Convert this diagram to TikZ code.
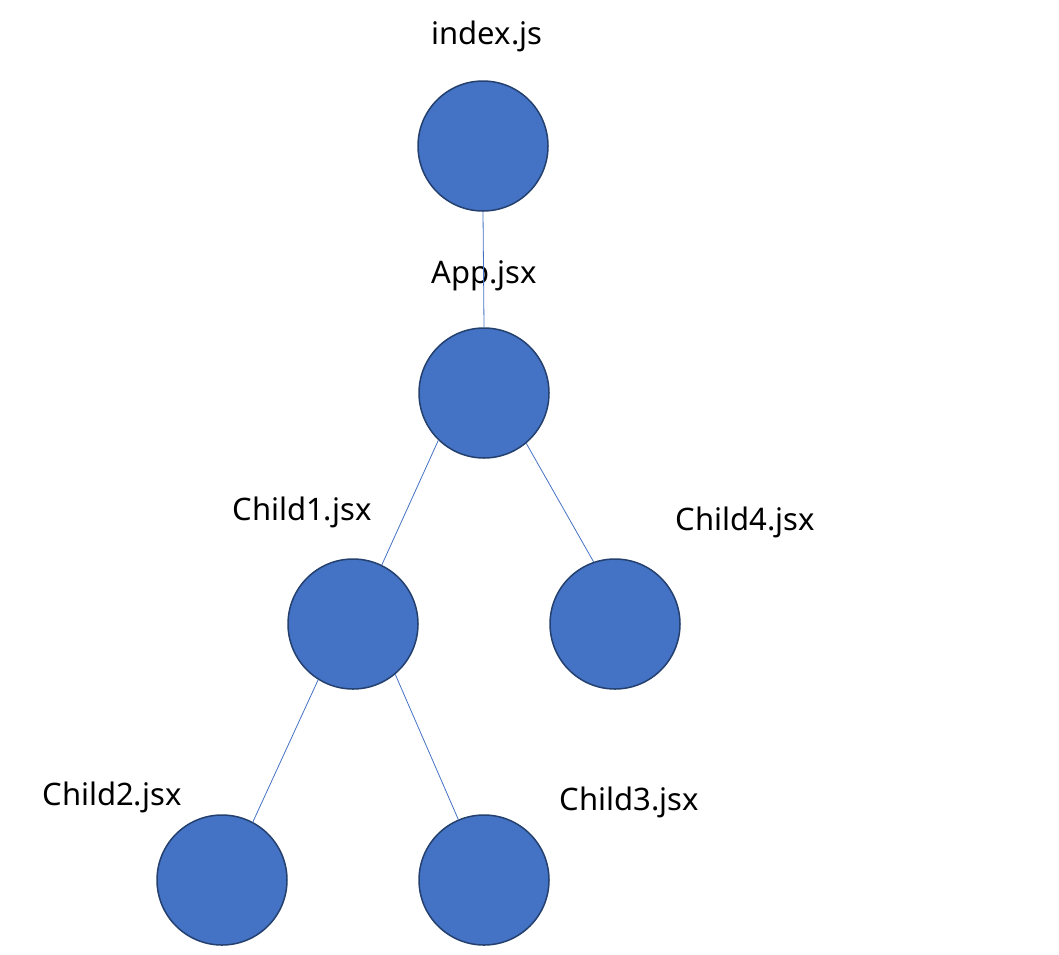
\documentclass[tikz,border=0pt]{standalone}
\usepackage{fontspec}
\setmainfont{Noto Sans}
\definecolor{filebl}{HTML}{4472C4}
\definecolor{fileedge}{HTML}{24406E}
\tikzset{
  file/.style={circle, fill=filebl, draw=fileedge, line width=1.5pt, minimum size=130pt, inner sep=0pt},
  fname/.style={font=\fontsize{31pt}{36pt}\selectfont, inner sep=0pt},
  link/.style={draw=filebl, line width=0.8pt}
}
\begin{document}
\begin{tikzpicture}[x=1pt,y=-1pt]
    \useasboundingbox (0,0) rectangle (1059,954);
    % files
    \node[file] (index) at (483,146) {};
    \node[file] (app) at (484,393) {};
    \node[file] (child1) at (353,624) {};
    \node[file] (child4) at (615,624) {};
    \node[file] (child2) at (222,880) {};
    \node[file] (child3) at (484,880) {};
    % names
    \node[fname] (lindex) at (487,36) {index.js};
    \node[fname] (lapp) at (484,276) {App.jsx};
    \node[fname] (lchild1) at (302,512) {Child1.jsx};
    \node[fname] (lchild4) at (745,522) {Child4.jsx};
    \node[fname] (lchild2) at (112,797) {Child2.jsx};
    \node[fname] (lchild3) at (629,802) {Child3.jsx};
    % imports
    \draw[link] (index.south) -- (app.north);
    \draw[link] (app.226) -- (child1.64);
    \draw[link] (app.310) -- (child4.109);
    \draw[link] (child1.238) -- (child2.62);
    \draw[link] (child1.310) -- (child3.113);
\end{tikzpicture}
\end{document}
